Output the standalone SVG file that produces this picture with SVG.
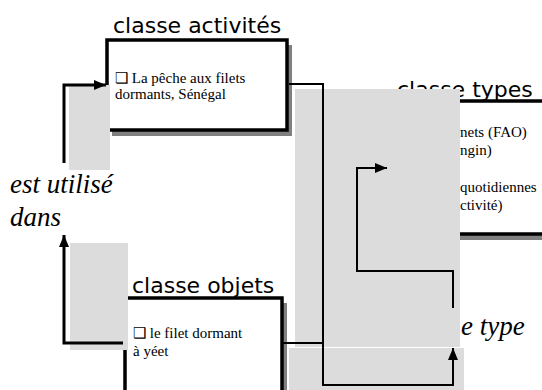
<svg xmlns="http://www.w3.org/2000/svg" width="542" height="390" viewBox="0 0 542 390">
<defs>
<style>
.title{font-family:"DejaVu Sans",sans-serif;font-size:22px;fill:#000}
.body{font-family:"Liberation Serif",serif;font-size:15px;fill:#000}
.label{font-family:"Liberation Serif",serif;font-style:italic;font-size:27px;fill:#000}
.box{fill:#fff;stroke:#000;stroke-width:3.5}
.shadow{fill:#808080}
.cover{fill:#dcdcdc}
.conn{fill:none;stroke:#000;stroke-width:2}
.conn3{fill:none;stroke:#000;stroke-width:3}
</style>
<marker id="ah" viewBox="0 0 12 10" refX="12" refY="5" markerWidth="12" markerHeight="10" markerUnits="userSpaceOnUse" orient="auto">
<path d="M0,0 L12,5 L0,10 Z" fill="#000"/>
</marker>
</defs>
<rect width="542" height="390" fill="#fff"/>

<g id="node-activites">
<rect class="shadow" x="112" y="45" width="180" height="91"/>
<rect class="box" x="107" y="40" width="180" height="90"/>
<text class="title" x="113" y="33">classe activités</text>
<text class="body" x="115" y="83">❑ La pêche aux filets</text>
<text class="body" x="115" y="99">dormants, Sénégal</text>
</g>

<g id="node-types">
<rect class="shadow" x="395" y="106" width="160" height="134"/>
<rect class="box" x="390" y="101" width="160" height="133"/>
<text class="title" x="397" y="97">classe types</text>
<text class="body" x="460" y="137">nets (FAO)</text>
<text class="body" x="460" y="155">ngin)</text>
<text class="body" x="460" y="192">quotidiennes</text>
<text class="body" x="460" y="210">ctivité)</text>
</g>

<g id="node-objets">
<rect class="shadow" x="130" y="303" width="157" height="100"/>
<rect class="box" x="125" y="298" width="157" height="100"/>
<text class="title" x="132" y="293">classe objets</text>
<text class="body" x="133" y="338">❑ le filet dormant</text>
<text class="body" x="133" y="356">à yéet</text>
</g>

<g id="covers">
<rect class="cover" x="69" y="85" width="41" height="85"/>
<rect class="cover" x="70" y="243" width="58" height="107"/>
<rect class="cover" x="295" y="89" width="165" height="258"/>
<rect class="cover" x="289" y="348" width="175" height="42"/>
</g>

<g id="label-utilise">
<text class="label" x="10" y="193">est utilisé</text>
<text class="label" x="10" y="226">dans</text>
</g>
<g id="label-type">
<text class="label" x="461" y="335">e type</text>
</g>

<g id="connectors">
<path class="conn3" d="M64,163 L64,85 L106,85" marker-end="url(#ah)"/>
<path class="conn3" d="M123,343 L64,343 L64,235" marker-end="url(#ah)"/>
<path class="conn" d="M289,84 L323,84 L323,385 L453,385 L453,348" marker-end="url(#ah)"/>
<path class="conn" d="M283,343 L323,343"/>
<path class="conn" d="M453,308 L453,271 L357,271 L357,168 L387,168" marker-end="url(#ah)"/>
</g>
</svg>
